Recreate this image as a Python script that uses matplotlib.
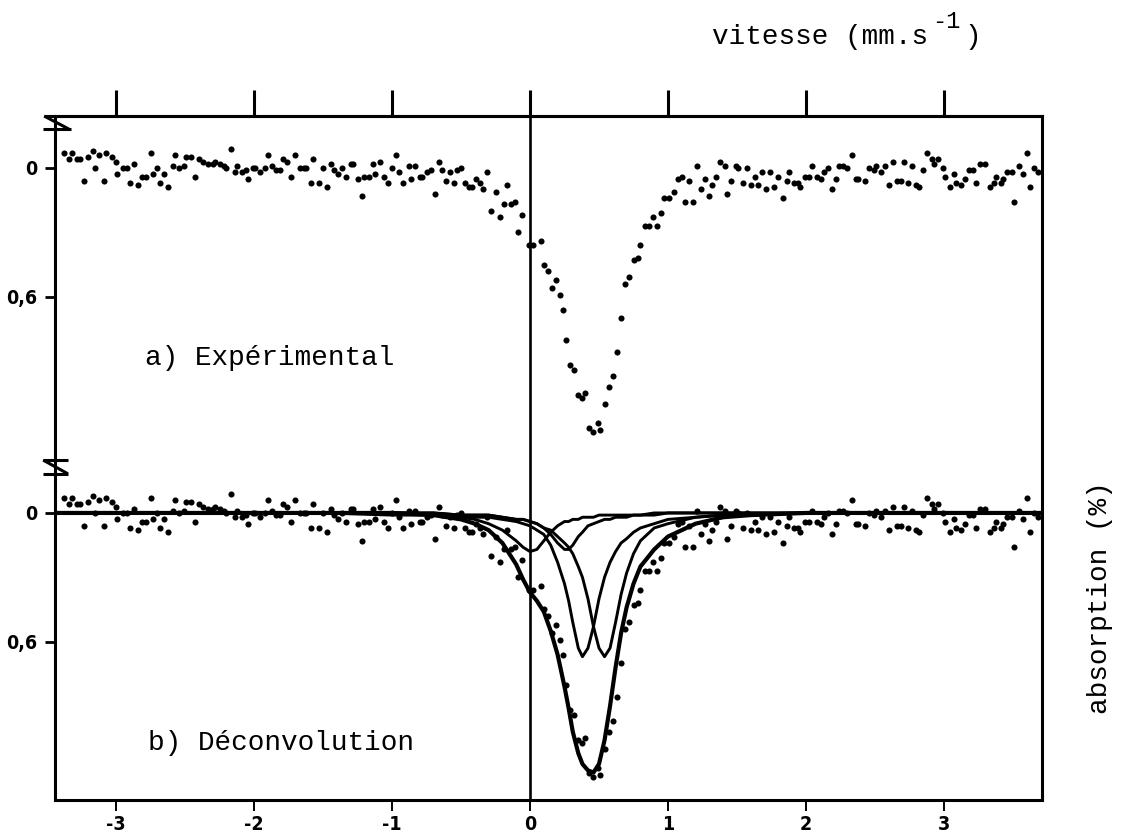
import matplotlib
matplotlib.use("Agg")
import matplotlib.pyplot as plt

# spectre experimental : vitesse (mm/s) et absorption (%)
vel = [
    -3.38, -3.34, -3.32, -3.28, -3.26, -3.23, -3.20, -3.17, -3.15, -3.12,
    -3.09, -3.07, -3.03, -3.00, -2.99, -2.95, -2.92, -2.90, -2.87, -2.84,
    -2.81, -2.78, -2.75, -2.73, -2.70, -2.68, -2.65, -2.62, -2.59, -2.57,
    -2.54, -2.51, -2.49, -2.46, -2.43, -2.40, -2.37, -2.33, -2.30, -2.28,
    -2.25, -2.22, -2.20, -2.17, -2.14, -2.12, -2.09, -2.06, -2.04, -2.01,
    -1.99, -1.96, -1.92, -1.90, -1.87, -1.84, -1.81, -1.79, -1.76, -1.73,
    -1.70, -1.67, -1.64, -1.62, -1.59, -1.57, -1.53, -1.50, -1.47, -1.44,
    -1.42, -1.39, -1.36, -1.33, -1.30, -1.28, -1.25, -1.22, -1.20, -1.17,
    -1.14, -1.12, -1.09, -1.06, -1.03, -1.00, -0.97, -0.95, -0.92, -0.88,
    -0.86, -0.83, -0.80, -0.78, -0.75, -0.72, -0.69, -0.66, -0.64, -0.61,
    -0.58, -0.55, -0.53, -0.50, -0.47, -0.44, -0.42, -0.39, -0.36, -0.34,
    -0.31, -0.28, -0.25, -0.22, -0.19, -0.17, -0.14, -0.11, -0.09, -0.06,
    -0.01, 0.02, 0.08, 0.10, 0.13, 0.16, 0.19, 0.22, 0.24, 0.26,
    0.29, 0.32, 0.35, 0.38, 0.40, 0.43, 0.46, 0.49, 0.51, 0.54,
    0.57, 0.60, 0.63, 0.66, 0.69, 0.72, 0.75, 0.78, 0.80, 0.83,
    0.86, 0.89, 0.92, 0.95, 0.97, 1.01, 1.04, 1.07, 1.10, 1.12,
    1.15, 1.18, 1.21, 1.24, 1.27, 1.30, 1.32, 1.35, 1.38, 1.41,
    1.43, 1.46, 1.49, 1.51, 1.54, 1.57, 1.60, 1.63, 1.65, 1.68,
    1.71, 1.74, 1.77, 1.80, 1.83, 1.86, 1.88, 1.91, 1.94, 1.96,
    1.99, 2.02, 2.04, 2.08, 2.11, 2.13, 2.16, 2.19, 2.22, 2.24,
    2.27, 2.30, 2.33, 2.36, 2.38, 2.43, 2.46, 2.49, 2.51, 2.54,
    2.57, 2.60, 2.63, 2.66, 2.69, 2.71, 2.74, 2.77, 2.80, 2.82,
    2.85, 2.88, 2.91, 2.93, 2.96, 2.99, 3.01, 3.04, 3.07, 3.09,
    3.12, 3.15, 3.18, 3.21, 3.23, 3.26, 3.30, 3.33, 3.36, 3.38,
    3.41, 3.43, 3.46, 3.49, 3.51, 3.54, 3.57, 3.60, 3.62, 3.65,
    3.68,
]
absorp = [
    -0.07, -0.04, -0.07, -0.04, -0.04, 0.06, -0.05, -0.08, 0.00, -0.06,
    0.06, -0.07, -0.05, -0.03, 0.03, 0.00, 0.00, 0.07, -0.02, 0.08,
    0.04, 0.04, -0.07, 0.03, 0.00, 0.07, 0.03, 0.09, -0.01, -0.06,
    0.00, -0.01, -0.05, -0.05, 0.04, -0.04, -0.03, -0.02, -0.02, -0.03,
    -0.02, -0.01, 0.00, -0.09, 0.02, -0.01, 0.02, 0.01, 0.05, 0.00,
    0.00, 0.02, 0.00, -0.06, -0.01, 0.01, 0.01, -0.04, -0.03, 0.04,
    -0.06, 0.00, 0.00, 0.00, 0.07, -0.04, 0.07, 0.00, 0.09, -0.02,
    0.01, 0.03, 0.00, 0.04, -0.02, -0.02, 0.05, 0.13, 0.04, 0.04,
    -0.02, 0.03, -0.03, 0.04, 0.07, 0.00, -0.06, 0.02, 0.07, -0.01,
    0.05, -0.01, 0.04, 0.04, 0.02, 0.01, 0.12, -0.03, 0.01, 0.06,
    0.02, 0.07, 0.01, 0.00, 0.07, 0.09, 0.09, 0.05, 0.07, 0.10,
    0.02, 0.20, 0.11, 0.23, 0.17, 0.08, 0.17, 0.16, 0.30, 0.22,
    0.36, 0.36, 0.34, 0.45, 0.48, 0.56, 0.52, 0.59, 0.66, 0.80,
    0.92, 0.94, 1.06, 1.07, 1.05, 1.21, 1.23, 1.19, 1.22, 1.10,
    1.02, 0.97, 0.86, 0.70, 0.54, 0.51, 0.43, 0.42, 0.36, 0.27,
    0.27, 0.23, 0.27, 0.21, 0.14, 0.14, 0.11, 0.05, 0.04, 0.16,
    0.06, 0.16, -0.01, 0.10, 0.05, 0.13, 0.08, 0.04, -0.03, -0.01,
    0.12, 0.06, -0.01, 0.00, 0.07, 0.00, 0.08, 0.04, 0.08, 0.02,
    0.10, 0.02, 0.09, 0.04, 0.14, 0.06, 0.02, 0.07, 0.07, 0.09,
    0.04, 0.04, -0.01, 0.04, 0.05, 0.02, 0.00, 0.10, 0.05, -0.01,
    -0.01, 0.00, -0.06, 0.05, 0.05, 0.06, 0.00, 0.01, -0.01, 0.02,
    -0.01, 0.08, -0.03, 0.06, 0.06, -0.03, 0.07, -0.01, 0.08, 0.09,
    0.01, -0.07, -0.04, -0.02, -0.04, 0.00, 0.04, 0.09, 0.03, 0.07,
    0.08, 0.05, 0.01, 0.01, 0.07, -0.02, -0.02, 0.09, 0.07, 0.04,
    0.07, 0.05, 0.02, 0.02, 0.16, -0.01, 0.03, -0.07, 0.09, 0.00,
    0.02,
]

# deconvolution : enveloppe et 4 composantes
fit_v = [-3.44, -2.0, -1.5, -1.0, -0.7, -0.5, -0.4, -0.3, -0.2, -0.1,
         -0.05, 0.0, 0.05, 0.1, 0.15, 0.2, 0.25, 0.28, 0.31, 0.35,
         0.38, 0.42, 0.46, 0.50, 0.54, 0.58, 0.62, 0.66, 0.70, 0.75,
         0.8, 0.9, 1.0, 1.2, 1.4, 1.6, 2.0, 3.0, 3.71]
envelope = [0.0, 0.0, 0.0, 0.0, 0.01, 0.03, 0.05, 0.08, 0.14, 0.24,
            0.31, 0.37, 0.41, 0.46, 0.55, 0.66, 0.81, 0.91, 1.02, 1.12,
            1.17, 1.20, 1.21, 1.17, 1.06, 0.90, 0.72, 0.56, 0.44, 0.33,
            0.25, 0.17, 0.11, 0.05, 0.02, 0.01, 0.0, 0.0, 0.0]
line_a = [0.0, 0.0, 0.0, 0.0, 0.01, 0.01, 0.02, 0.02, 0.03, 0.04,
          0.05, 0.06, 0.08, 0.10, 0.15, 0.23, 0.33, 0.41, 0.51, 0.63,
          0.67, 0.63, 0.53, 0.40, 0.30, 0.23, 0.18, 0.14, 0.12, 0.09,
          0.07, 0.05, 0.03, 0.02, 0.01, 0.01, 0.0, 0.0, 0.0]
line_b = [0.0, 0.0, 0.0, 0.0, 0.0, 0.01, 0.01, 0.01, 0.02, 0.03,
          0.03, 0.04, 0.05, 0.07, 0.08, 0.11, 0.14, 0.16, 0.19, 0.25,
          0.30, 0.40, 0.53, 0.63, 0.67, 0.63, 0.51, 0.38, 0.28, 0.19,
          0.13, 0.07, 0.05, 0.02, 0.01, 0.01, 0.0, 0.0, 0.0]
line_c = [0.0, 0.0, 0.0, 0.01, 0.01, 0.02, 0.03, 0.05, 0.08, 0.13,
          0.16, 0.18, 0.17, 0.13, 0.09, 0.06, 0.04, 0.04, 0.03, 0.03,
          0.02, 0.02, 0.02, 0.01, 0.01, 0.01, 0.01, 0.01, 0.01, 0.01,
          0.01, 0.0, 0.0, 0.0, 0.0, 0.0, 0.0, 0.0, 0.0]
line_d = [0.0, 0.0, 0.0, 0.0, 0.0, 0.01, 0.01, 0.01, 0.02, 0.03,
          0.03, 0.04, 0.05, 0.07, 0.10, 0.14, 0.17, 0.17, 0.15, 0.11,
          0.09, 0.06, 0.05, 0.04, 0.03, 0.03, 0.02, 0.02, 0.02, 0.01,
          0.01, 0.01, 0.0, 0.0, 0.0, 0.0, 0.0, 0.0, 0.0]

x_ticks = [-3, -2, -1, 0, 1, 2, 3]
x_labels = ['-3', '-2', '-1', '0', '1', '2', '3']
y_labels = ['0', '0,6', '0', '0,6']
offset_b = 1.608  # decalage vertical du panneau b

MONO = 'Liberation Mono'
TICKFONT = dict(family=['Liberation Sans Narrow', 'DejaVu Sans'], weight='bold',
                stretch='condensed', size=14)

fig = plt.figure(figsize=(11.25, 8.33), dpi=100)
ax = fig.add_axes([0.0489, 0.0396, 0.8773, 0.8211])

ax.plot(vel, absorp, 'o', ms=4.4, color='black', mec='none')
ax.plot(vel, [a + offset_b for a in absorp], 'o', ms=4.4, color='black', mec='none')

for comp in (line_a, line_b, line_c, line_d):
    ax.plot(fit_v, [c + offset_b for c in comp], color='black', lw=2.1)
ax.plot(fit_v, [e + offset_b for e in envelope], color='black', lw=3.0)

ax.axvline(0, color='black', lw=1.9)

ax.set_xlim(-3.442, 3.710)
ax.set_ylim(2.946, -0.242)

ax.set_xticks(x_ticks)
ax.set_xticklabels(x_labels, fontdict=TICKFONT)
ax.tick_params(axis='x', direction='out', length=8, width=1.4, pad=3)
ax.set_yticks([0, 0.6, offset_b, offset_b + 0.6])
ax.set_yticklabels(y_labels, fontdict=TICKFONT)
ax.tick_params(axis='y', direction='out', length=7, width=2, pad=6)

top = ax.secondary_xaxis('top')
top.set_xticks(x_ticks)
top.tick_params(direction='out', length=19, width=2.2, labeltop=False)
top.spines['top'].set_linewidth(2.2)

for sp in ax.spines.values():
    sp.set_linewidth(2.2)

# marques de coupure de l'axe vertical
brk = dict(color='black', lw=2.2, transform=ax.transAxes, clip_on=False,
           solid_capstyle='butt')
ax.plot([-0.011, 0.0], [1.0, 1.0], **brk)
ax.plot([-0.011, 0.014], [1.0, 0.981], **brk)
ax.plot([-0.012, 0.016], [0.981, 0.981], **brk)
ax.plot([-0.012, 0.013], [0.497, 0.497], **brk)
ax.plot([-0.012, 0.013], [0.497, 0.477], **brk)
ax.plot([-0.012, 0.013], [0.477, 0.477], **brk)

ax.text(-2.79, 0.918, 'a) Expérimental', family=MONO, fontsize=20, va='baseline')
ax.text(-2.77, 2.713, 'b) Déconvolution', family=MONO, fontsize=20, va='baseline')

fig.text(0.633, 0.947, 'vitesse (mm.s', family=MONO, fontsize=20, va='baseline')
fig.text(0.829, 0.966, '-1', family=MONO, fontsize=17, va='baseline')
fig.text(0.857, 0.947, ')', family=MONO, fontsize=20, va='baseline')
fig.text(0.978, 0.282, 'absorption (%)', family=MONO, fontsize=20,
         rotation=90, ha='center', va='center')

fig.savefig('out.png', dpi=100)
